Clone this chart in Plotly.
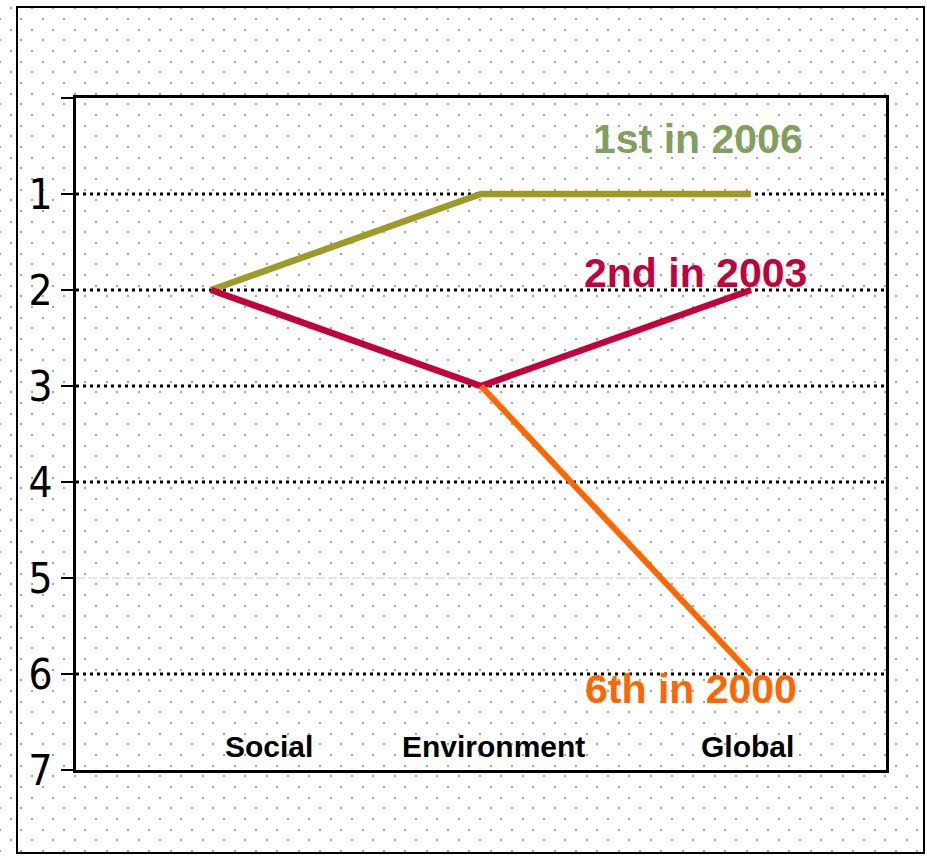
import base64
import plotly.graph_objects as go

# ---------------- data ----------------
categories = ["Social", "Environment", "Global"]
rank_2006 = [2, 1, 1]
rank_2003 = [2, 3, 2]
rank_2000 = [None, 3, 6]
series_labels = ["1st in 2006", "2nd in 2003", "6th in 2000"]
series_label_anchor = [1, 2, 6]          # rank value the label sits next to (at "Global")
y_tickvals = [0, 1, 2, 3, 4, 5, 6, 7]
y_ticktext = ["", "1", "2", "3", "4", "5", "6", "7"]
grid_dark = [1, 2, 3, 4, 6]
grid_light = [5]

# ---------------- style ----------------
W, H = 927, 856
line_colors = ["#9d9a27", "#c2003b", "#ff6600"]
label_colors = ["#819f5f", "#c2003b", "#ff6600"]
label_shift = [(-53, 55), (-56, 17), (-60, -15)]
cat_shift = [58, 12, -4]
NARROW = "Liberation Sans Narrow, DejaVu Sans Condensed, Arial Narrow, sans-serif"
SANS = "Liberation Sans, Arial, sans-serif"

# dotted background texture (staggered grey dots, crisp integer positions)
dot_rows = [0, 11, 21, 32, 43, 53]
dot_cols_a = [0, 21, 43]
dot_cols_b = [11, 32, 53]
rects = []
for i, ry in enumerate(dot_rows):
    for cx in (dot_cols_a if i % 2 == 0 else dot_cols_b):
        rects.append(f'<rect x="{cx}" y="{ry}" width="2" height="2" fill="#a2a2a2"/>')
svg = (
    f'<svg xmlns="http://www.w3.org/2000/svg" width="{W}" height="{H}" viewBox="0 0 {W} {H}" shape-rendering="crispEdges">'
    '<defs><pattern id="p" x="-1" y="18" width="64" height="64" patternUnits="userSpaceOnUse">'
    + "".join(rects) +
    '</pattern></defs>'
    '<rect width="100%" height="100%" fill="white"/>'
    '<rect width="100%" height="100%" fill="url(#p)"/></svg>'
)
bg_src = "data:image/svg+xml;base64," + base64.b64encode(svg.encode()).decode()

fig = go.Figure()
for vals, col, w in zip([rank_2006, rank_2003, rank_2000], line_colors, [6.5, 6.5, 6]):
    fig.add_trace(go.Scatter(x=categories, y=vals, mode="lines",
                             line=dict(color=col, width=w), connectgaps=False,
                             hoverinfo="skip", showlegend=False))

shapes = []
for v in grid_dark:
    shapes.append(dict(type="line", xref="x domain", yref="y", x0=0, x1=1, y0=v, y1=v,
                       line=dict(color="black", width=3, dash="3px,4px"), layer="below"))
for v in grid_light:
    shapes.append(dict(type="line", xref="x domain", yref="y", x0=0, x1=1, y0=v, y1=v,
                       line=dict(color="#cccccc", width=1, dash="9px,3px"), layer="below"))
# outer frame
shapes.append(dict(type="rect", xref="paper", yref="paper",
                   x0=17 / W, x1=924 / W, y0=1 - 853 / H, y1=1 - 7 / H,
                   line=dict(color="black", width=2), layer="above"))

annotations = []
for c, dx in zip(categories, cat_shift):
    annotations.append(dict(x=c, y=7, xref="x", yref="y", text=f"<b>{c}</b>", showarrow=False,
                            xanchor="center", yanchor="bottom", xshift=dx, yshift=5,
                            font=dict(family=SANS, size=30, color="black")))
for txt, v, col, (dx, dy) in zip(series_labels, series_label_anchor, label_colors, label_shift):
    annotations.append(dict(x=categories[-1], y=v, xref="x", yref="y", text=f"<b>{txt}</b>",
                            showarrow=False, xanchor="center", yanchor="middle",
                            xshift=dx, yshift=dy,
                            font=dict(family=SANS, size=41, color=col)))

fig.update_layout(
    width=W, height=H, autosize=False,
    margin=dict(l=0, r=0, t=0, b=0, autoexpand=False),
    paper_bgcolor="white", plot_bgcolor="rgba(0,0,0,0)",
    showlegend=False,
    images=[dict(source=bg_src, xref="paper", yref="paper", x=0, y=1, sizex=1, sizey=1,
                 xanchor="left", yanchor="top", sizing="stretch", layer="below")],
    shapes=shapes,
    annotations=annotations,
    xaxis=dict(domain=[76 / W, 886 / W], range=[-0.5, 2.5], showgrid=False, zeroline=False,
               showticklabels=False, ticks="", showline=True, mirror=True,
               linecolor="black", linewidth=3, fixedrange=True),
    yaxis=dict(domain=[(H - 770) / H, (H - 98) / H], range=[7, 0], showgrid=False,
               zeroline=False, tickmode="array", tickvals=y_tickvals, ticktext=y_ticktext,
               ticks="outside", ticklen=12, tickwidth=2, tickcolor="black",
               showline=True, mirror=True, linecolor="black", linewidth=3,
               tickfont=dict(family=NARROW, size=42, color="black"), fixedrange=True),
)

fig.write_html("out.html", config={"displayModeBar": False, "responsive": False},
               post_script="document.body.style.margin='0';document.body.style.overflow='hidden';")
